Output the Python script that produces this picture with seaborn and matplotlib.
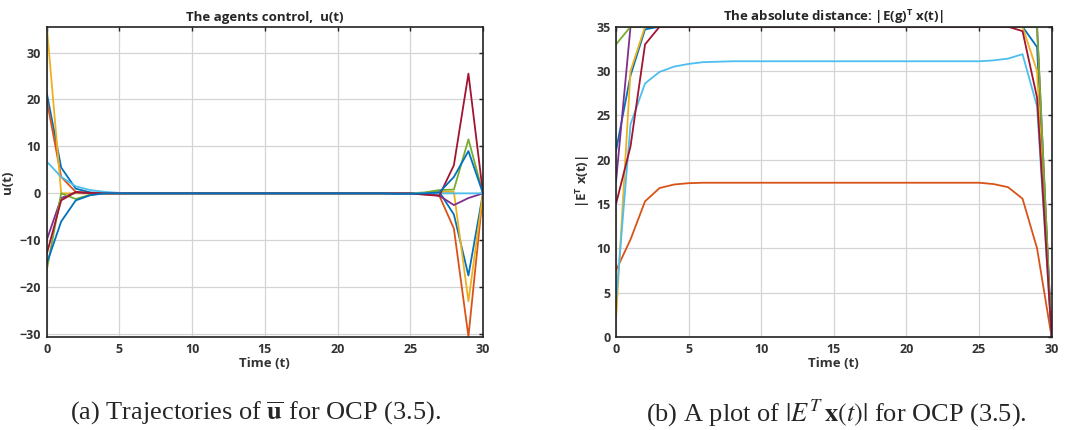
import numpy as np
import pandas as pd
import matplotlib
matplotlib.use('Agg')
import matplotlib.pyplot as plt
import seaborn as sns

# ── data ──────────────────────────────────────────────
time = list(range(31))

# (a) agents control u(t), eight agents
u_blue1 = [21.5, 5.5, 1.0, 0.2, 0.0, 0.0, 0.0, 0.0, 0.0, 0.0, 0.0, 0.0, 0.0, 0.0, 0.0, 0.0,
           0.0, 0.0, 0.0, 0.0, 0.0, 0.0, 0.0, 0.0, 0.0, 0.0, 0.1, 0.3, -4.5, -17.5, 0.0]
u_orange = [20.0, 3.5, 0.3, 0.0, 0.0, 0.0, 0.0, 0.0, 0.0, 0.0, 0.0, 0.0, 0.0, 0.0, 0.0, 0.0,
            0.0, 0.0, 0.0, 0.0, 0.0, 0.0, 0.0, 0.0, 0.0, 0.0, -0.1, -0.5, -7.5, -30.5, 0.0]
u_yellow = [36.0, 0.0, 0.0, 0.0, 0.0, 0.0, 0.0, 0.0, 0.0, 0.0, 0.0, 0.0, 0.0, 0.0, 0.0, 0.0,
            0.0, 0.0, 0.0, 0.0, 0.0, 0.0, 0.0, 0.0, 0.0, 0.0, 0.1, 0.3, 0.3, -23.0, 0.0]
u_purple = [-10.0, -1.0, 0.2, 0.0, 0.0, 0.0, 0.0, 0.0, 0.0, 0.0, 0.0, 0.0, 0.0, 0.0, 0.0, 0.0,
            0.0, 0.0, 0.0, 0.0, 0.0, 0.0, 0.0, 0.0, 0.0, 0.0, -0.1, -0.5, -2.5, -1.0, 0.0]
u_green = [-16.5, 0.0, -1.2, -0.3, 0.0, 0.0, 0.0, 0.0, 0.0, 0.0, 0.0, 0.0, 0.0, 0.0, 0.0, 0.0,
           0.0, 0.0, 0.0, 0.0, 0.0, 0.0, 0.0, 0.0, 0.0, 0.0, 0.2, 0.7, 0.8, 11.5, 0.0]
u_lightblue = [6.8, 3.5, 1.5, 0.7, 0.3, 0.1, 0.0, 0.0, 0.0, 0.0, 0.0, 0.0, 0.0, 0.0, 0.0, 0.0,
               0.0, 0.0, 0.0, 0.0, 0.0, 0.0, 0.0, 0.0, 0.0, 0.0, 0.0, 0.0, 0.0, 0.0, 0.0]
u_darkred = [-13.0, -1.5, 0.3, 0.1, 0.0, 0.0, 0.0, 0.0, 0.0, 0.0, 0.0, 0.0, 0.0, 0.0, 0.0, 0.0,
             0.0, 0.0, 0.0, 0.0, 0.0, 0.0, 0.0, 0.0, 0.0, 0.0, -0.3, -0.5, 6.0, 25.5, 0.0]
u_blue2 = [-15.0, -6.0, -1.5, -0.4, 0.0, 0.0, 0.0, 0.0, 0.0, 0.0, 0.0, 0.0, 0.0, 0.0, 0.0, 0.0,
           0.0, 0.0, 0.0, 0.0, 0.0, 0.0, 0.0, 0.0, -0.1, -0.1, 0.0, 0.2, 3.5, 9.0, 0.0]

# (b) absolute distance |E^T x(t)|, capped at 35
d_blue = [21.0, 29.5, 34.7, 35.0, 35.0, 35.0, 35.0, 35.0, 35.0, 35.0, 35.0, 35.0, 35.0, 35.0, 35.0, 35.0,
          35.0, 35.0, 35.0, 35.0, 35.0, 35.0, 35.0, 35.0, 35.0, 35.0, 35.0, 35.0, 35.0, 32.7, 0.0]
d_orange = [7.5, 11.0, 15.3, 16.8, 17.2, 17.35, 17.4, 17.4, 17.4, 17.4, 17.4, 17.4, 17.4, 17.4, 17.4, 17.4,
            17.4, 17.4, 17.4, 17.4, 17.4, 17.4, 17.4, 17.4, 17.4, 17.4, 17.25, 16.9, 15.6, 10.0, 0.0]
d_yellow = [2.0, 30.0, 35.0, 35.0, 35.0, 35.0, 35.0, 35.0, 35.0, 35.0, 35.0, 35.0, 35.0, 35.0, 35.0, 35.0,
            35.0, 35.0, 35.0, 35.0, 35.0, 35.0, 35.0, 35.0, 35.0, 35.0, 35.0, 35.0, 35.0, 30.0, 0.0]
d_purple = [17.5, 35.0, 35.0, 35.0, 35.0, 35.0, 35.0, 35.0, 35.0, 35.0, 35.0, 35.0, 35.0, 35.0, 35.0, 35.0,
            35.0, 35.0, 35.0, 35.0, 35.0, 35.0, 35.0, 35.0, 35.0, 35.0, 35.0, 35.0, 35.0, 35.0, 0.0]
d_green = [33.0, 35.0, 35.0, 35.0, 35.0, 35.0, 35.0, 35.0, 35.0, 35.0, 35.0, 35.0, 35.0, 35.0, 35.0, 35.0,
           35.0, 35.0, 35.0, 35.0, 35.0, 35.0, 35.0, 35.0, 35.0, 35.0, 35.0, 35.0, 35.0, 35.0, 0.0]
d_lightblue = [4.0, 24.0, 28.6, 29.9, 30.5, 30.8, 31.0, 31.05, 31.1, 31.1, 31.1, 31.1, 31.1, 31.1, 31.1, 31.1,
               31.1, 31.1, 31.1, 31.1, 31.1, 31.1, 31.1, 31.1, 31.1, 31.1, 31.2, 31.4, 31.9, 26.0, 0.0]
d_darkred = [15.0, 21.5, 33.0, 35.0, 35.0, 35.0, 35.0, 35.0, 35.0, 35.0, 35.0, 35.0, 35.0, 35.0, 35.0, 35.0,
             35.0, 35.0, 35.0, 35.0, 35.0, 35.0, 35.0, 35.0, 35.0, 35.0, 35.0, 35.0, 34.5, 27.0, 0.0]

# MATLAB default line colours
BLUE, ORANGE, YELLOW, PURPLE = '#0072BD', '#D95319', '#EDB120', '#7E2F8E'
GREEN, LIGHTBLUE, DARKRED = '#77AC30', '#4DBEEE', '#A2142F'

u_series = [(u_blue1, BLUE), (u_orange, ORANGE), (u_yellow, YELLOW), (u_purple, PURPLE),
            (u_green, GREEN), (u_lightblue, LIGHTBLUE), (u_darkred, DARKRED), (u_blue2, BLUE)]
d_series = [(d_blue, BLUE), (d_orange, ORANGE), (d_yellow, YELLOW), (d_purple, PURPLE),
            (d_green, GREEN), (d_lightblue, LIGHTBLUE), (d_darkred, DARKRED)]

# ── style ─────────────────────────────────────────────
sns.set_style('white')
plt.rcParams['font.family'] = ['Open Sans', 'DejaVu Sans']
plt.rcParams['mathtext.fontset'] = 'custom'
plt.rcParams['mathtext.bf'] = 'Open Sans:bold'

fig = plt.figure(figsize=(10.65, 4.3), dpi=100)
ax1 = fig.add_axes([0.0438, 0.2163, 0.4097, 0.7216])
ax2 = fig.add_axes([0.5784, 0.2163, 0.409, 0.7216])

TXT = '#333333'


def draw(ax, series):
    for vals, col in series:
        df = pd.DataFrame({'t': time, 'v': vals})
        sns.lineplot(data=df, x='t', y='v', ax=ax, color=col, linewidth=1.3)
    ax.set_xlim(0, 30)
    ax.set_xticks(range(0, 31, 5))
    ax.grid(True, color='#d4d4d4', linewidth=0.9)
    ax.set_axisbelow(True)
    ax.tick_params(direction='in', length=3, width=1.0, top=True, right=True,
                   labelsize=9, pad=4, color='#222222')
    for sp in ax.spines.values():
        sp.set_color('#222222')
        sp.set_linewidth(1.2)
    ax.set_xlabel('Time (t)', fontsize=9.5, fontweight='bold', color=TXT, labelpad=1)


draw(ax1, u_series)
ax1.set_ylim(-30.6, 35.5)
ax1.set_yticks(range(-30, 31, 10))
draw(ax2, d_series)
ax2.set_ylim(0, 35)
ax2.set_yticks(range(0, 36, 5))
for ax in (ax1, ax2):
    for lab in ax.get_xticklabels() + ax.get_yticklabels():
        lab.set_fontweight('bold')
        lab.set_color(TXT)

ax1.set_ylabel('u(t)', fontsize=9.5, fontweight='bold', color=TXT, labelpad=4)
ax1.set_title('The agents control,  u(t)', fontsize=9.5, fontweight='bold', pad=4)
ax2.set_ylabel(r'|E$^{\mathbf{T}}$ x(t)|', fontsize=9.5, fontweight='bold', color=TXT, labelpad=3)
ax2.set_title(r'The absolute distance: |E(g)$^{\mathbf{T}}$ x(t)|', fontsize=9.5,
              fontweight='bold', pad=4)

# captions below each panel
cap = dict(fontsize=19, family=['Liberation Serif', 'DejaVu Serif'], ha='center', va='center',
           math_fontfamily='stix')
fig.text(255 / 1065, 1 - 413 / 430, r'(a) Trajectories of $\overline{\mathbf{u}}$ for OCP (3.5).', **cap)
fig.text(836 / 1065, 1 - 413 / 430, r'(b) A plot of $|E^T\,\mathbf{x}(t)|$ for OCP (3.5).', **cap)

fig.savefig('out.png', dpi=100)
